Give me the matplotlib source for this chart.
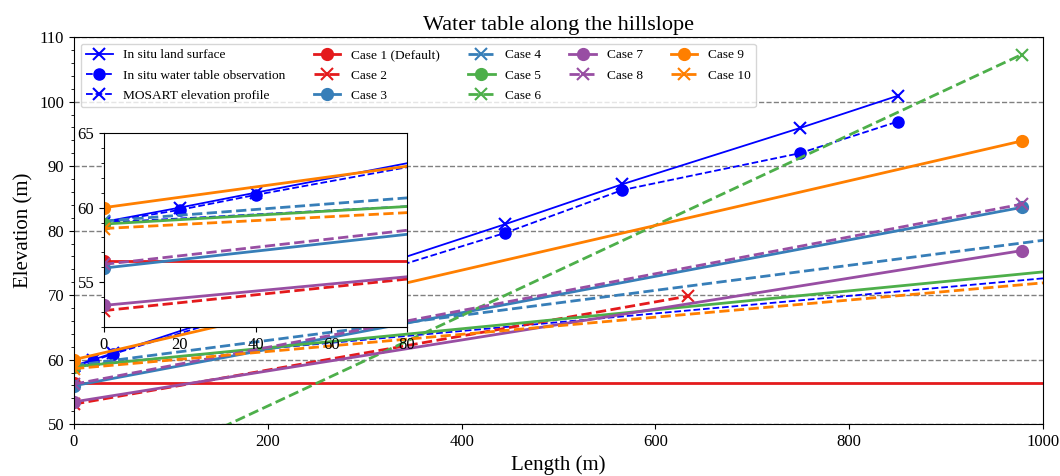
import matplotlib.pyplot as plt
from matplotlib.ticker import AutoMinorLocator, MultipleLocator

plt.rcParams['font.family'] = ['Liberation Serif', 'DejaVu Serif']

# in situ observations
obs_x = [0, 20, 40, 445, 566, 749, 850]
land_surface = [59.05, 60.0, 61.0, 81.0, 87.2, 95.9, 100.9]
water_table = [59.0, 59.85, 60.85, 79.65, 86.3, 92.0, 96.9]

mosart_x = [0, 1000]
mosart_elev = [59.0, 72.6]

# model cases: (x, elevation) end points
case_names = ['Case 1 (Default)', 'Case 2', 'Case 3', 'Case 4', 'Case 5',
              'Case 6', 'Case 7', 'Case 8', 'Case 9', 'Case 10']
case_x = [[0, 1000], [0, 634], [0, 978], [0, 1000], [0, 1000],
          [0, 978], [0, 978], [0, 978], [0, 978], [0, 1000]]
case_y = [[56.4, 56.4], [53.1, 69.85], [55.95, 83.6], [59.1, 78.5], [58.9, 73.6],
          [38.8, 107.3], [53.45, 76.9], [56.2, 84.1], [60.0, 93.9], [58.6, 71.9]]
case_colors = ['#e41a1c', '#e41a1c', '#377eb8', '#377eb8', '#4daf4a',
               '#4daf4a', '#984ea3', '#984ea3', '#ff7f00', '#ff7f00']


def draw(ax, label=True):
    ax.plot(obs_x, land_surface, color='blue', lw=1.3, marker='x', markersize=8, mew=1.5,
            label='In situ land surface' if label else None)
    ax.plot(obs_x, water_table, color='blue', lw=1.3, ls='--', marker='o', markersize=8,
            markevery=list(range(1, len(obs_x))),
            label='In situ water table observation' if label else None)
    ax.plot(mosart_x, mosart_elev, color='blue', lw=1.3, ls='--', marker='x', markersize=8,
            mew=1.5, markevery=[0], label='MOSART elevation profile' if label else None)
    for i, name in enumerate(case_names):
        solid = i % 2 == 0
        every = [0, 1] if case_x[i][-1] < 1000 else [0]
        ax.plot(case_x[i], case_y[i], color=case_colors[i], lw=2,
                ls='-' if solid else '--', marker='o' if solid else 'x',
                markersize=8, mew=1.5, markevery=every,
                label=name if label else None)


fig = plt.figure(figsize=(10.6, 4.76), dpi=100)
ax = fig.add_axes([0.0698, 0.109, 0.9142, 0.813])
draw(ax)
ax.set_xlim(0, 1000)
ax.set_ylim(50, 110)
ax.yaxis.set_minor_locator(AutoMinorLocator())
ax.grid(True, axis='y', ls='--', color='gray', lw=1)
ax.tick_params(labelsize=12)
ax.set_xlabel('Length (m)', fontsize=15)
ax.set_ylabel('Elevation (m)', fontsize=15)
ax.set_title('Water table along the hillslope', fontsize=16, pad=5)
ax.legend(loc='upper left', ncol=5, fontsize=9.6, columnspacing=2.1, labelspacing=0.6)

# zoom on the start of the hillslope
axin = fig.add_axes([0.0981, 0.313, 0.286, 0.4076])
draw(axin, label=False)
axin.set_xlim(0, 80)
axin.set_ylim(52, 65)
axin.xaxis.set_major_locator(MultipleLocator(20))
axin.yaxis.set_major_locator(MultipleLocator(5))
axin.yaxis.set_minor_locator(AutoMinorLocator())
axin.tick_params(labelsize=12)

fig.savefig('out.png')
